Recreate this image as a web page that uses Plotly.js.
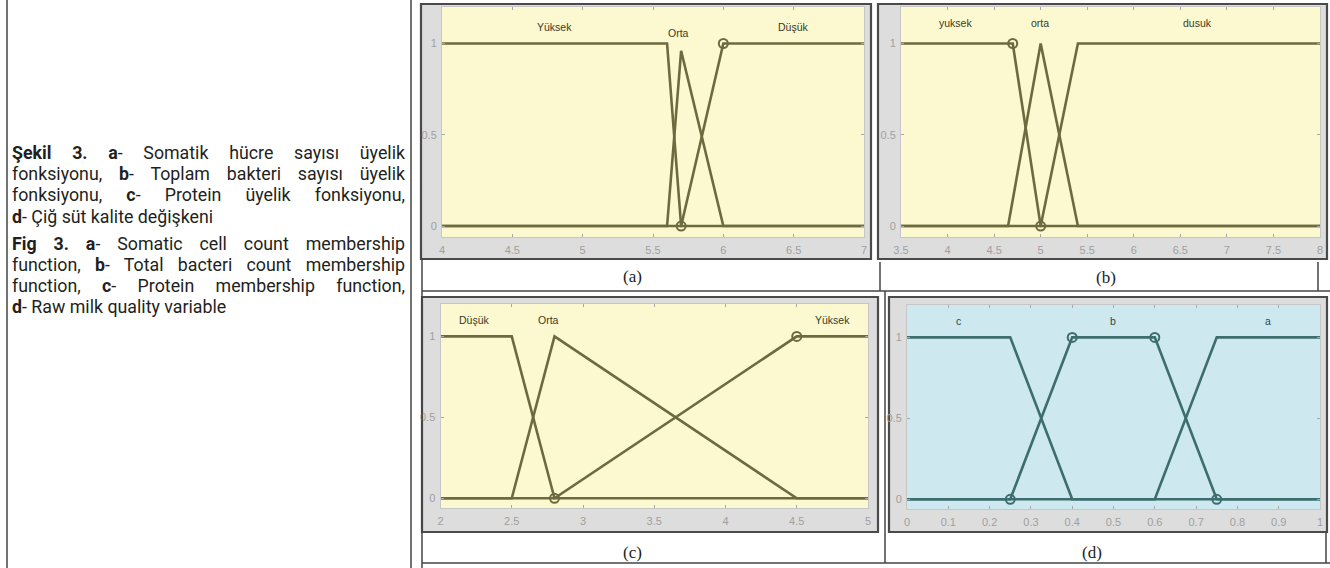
<!DOCTYPE html>
<html>
<head>
<meta charset="utf-8">
<script src="https://cdn.plot.ly/plotly-3.0.1.min.js"></script>
<style>
  body { margin: 0; background: #fff; }
  #wrap { position: relative; width: 1330px; height: 568px; }
  #plot { position: absolute; left: 0; top: 0; width: 1330px; height: 568px; }
  #caption {
    position: absolute; left: 12px; top: 142px; width: 393px;
    font-family: Roboto, 'Open Sans', sans-serif; font-size: 17.8px;
    line-height: 21.2px; color: #231f20;
  }
  #caption .j { text-align: justify; text-align-last: justify; }
  #caption .gap { height: 6px; }
  #caption b { font-weight: 700; }
</style>
</head>
<body>
<div id="wrap">
  <div id="plot"></div>
  <div id="caption">
    <div class="j"><b>Şekil 3. a</b>- Somatik hücre sayısı üyelik</div>
    <div class="j">fonksiyonu, <b>b</b>- Toplam bakteri sayısı üyelik</div>
    <div class="j">fonksiyonu, <b>c</b>- Protein üyelik fonksiyonu,</div>
    <div><b>d</b>- Çiğ süt kalite değişkeni</div>
    <div class="gap"></div>
    <div class="j"><b>Fig 3. a</b>- Somatic cell count membership</div>
    <div class="j">function, <b>b</b>- Total bacteri count membership</div>
    <div class="j">function, <b>c</b>- Protein membership function,</div>
    <div><b>d</b>- Raw milk quality variable</div>
  </div>
</div>
<script>
// (a) somatic cell count
const aTicks = [4, 4.5, 5, 5.5, 6, 6.5, 7];
const aYuksekX = [4, 5.6, 5.7, 7];
const aYuksekY = [1, 1, 0, 0];
const aOrtaX = [4, 5.6, 5.7, 6.0, 7];
const aOrtaY = [0, 0, 0.96, 0, 0];
const aDusukX = [4, 5.7, 6.0, 7];
const aDusukY = [0, 0, 1, 1];
const aMarkX = [5.7, 6.0];
const aMarkY = [0, 1];
const aLabels = ['Yüksek', 'Orta', 'Düşük'];
const aLabelX = [4.8, 5.68, 6.5];
const aLabelY = [1.09, 1.06, 1.09];

// (b) total bacteria count
const bTicks = [3.5, 4, 4.5, 5, 5.5, 6, 6.5, 7, 7.5, 8];
const bYuksekX = [3.5, 4.7, 5.0, 8];
const bYuksekY = [1, 1, 0, 0];
const bOrtaX = [3.5, 4.65, 5.0, 5.4, 8];
const bOrtaY = [0, 0, 1, 0, 0];
const bDusukX = [3.5, 5.0, 5.4, 8];
const bDusukY = [0, 0, 1, 1];
const bMarkX = [4.7, 5.0];
const bMarkY = [1, 0];
const bLabels = ['yuksek', 'orta', 'dusuk'];
const bLabelX = [4.08, 4.99, 6.68];
const bLabelY = [1.11, 1.11, 1.11];

// (c) protein
const cTicks = [2, 2.5, 3, 3.5, 4, 4.5, 5];
const cDusukX = [2, 2.5, 2.8, 5];
const cDusukY = [1, 1, 0, 0];
const cOrtaX = [2, 2.5, 2.8, 4.5, 5];
const cOrtaY = [0, 0, 1, 0, 0];
const cYuksekX = [2, 2.8, 4.5, 5];
const cYuksekY = [0, 0, 1, 1];
const cMarkX = [2.8, 4.5];
const cMarkY = [0, 1];
const cLabels = ['Düşük', 'Orta', 'Yüksek'];
const cLabelX = [2.24, 2.76, 4.75];
const cLabelY = [1.1, 1.1, 1.1];

// (d) raw milk quality
const dTicks = [0, 0.1, 0.2, 0.3, 0.4, 0.5, 0.6, 0.7, 0.8, 0.9, 1];
const dCX = [0, 0.25, 0.4, 1];
const dCY = [1, 1, 0, 0];
const dBX = [0, 0.25, 0.4, 0.6, 0.75, 1];
const dBY = [0, 0, 1, 1, 0, 0];
const dAX = [0, 0.6, 0.75, 1];
const dAY = [0, 0, 1, 1];
const dMarkX = [0.25, 0.4, 0.6, 0.75];
const dMarkY = [0, 1, 1, 0];
const dLabels = ['c', 'b', 'a'];
const dLabelX = [0.124, 0.498, 0.874];
const dLabelY = [1.1, 1.1, 1.1];

const yTicks = [0, 0.5, 1];
const panelLetters = ['(a)', '(b)', '(c)', '(d)'];

const W = 1330, H = 568;
const fx = px => px / W;
const fy = py => 1 - py / H;

const OLIVE = '#6e6a40';
const TEAL = '#3d6d6f';

function mfLine(x, y, color, ax) {
    return {
        x: x, y: y, xaxis: 'x' + ax, yaxis: 'y' + ax,
        mode: 'lines', line: { color: color, width: 2.6 },
        hoverinfo: 'skip', showlegend: false
    };
}

function marks(x, y, color, ax) {
    return {
        x: x, y: y, xaxis: 'x' + ax, yaxis: 'y' + ax,
        mode: 'markers',
        marker: { symbol: 'circle-open', size: 9, color: color, line: { width: 2, color: color } },
        hoverinfo: 'skip', showlegend: false
    };
}

const traces = [
    mfLine(aYuksekX, aYuksekY, OLIVE, ''),
    mfLine(aOrtaX, aOrtaY, OLIVE, ''),
    mfLine(aDusukX, aDusukY, OLIVE, ''),
    marks(aMarkX, aMarkY, OLIVE, ''),
    mfLine(bYuksekX, bYuksekY, OLIVE, '2'),
    mfLine(bOrtaX, bOrtaY, OLIVE, '2'),
    mfLine(bDusukX, bDusukY, OLIVE, '2'),
    marks(bMarkX, bMarkY, OLIVE, '2'),
    mfLine(cDusukX, cDusukY, OLIVE, '3'),
    mfLine(cOrtaX, cOrtaY, OLIVE, '3'),
    mfLine(cYuksekX, cYuksekY, OLIVE, '3'),
    marks(cMarkX, cMarkY, OLIVE, '3'),
    mfLine(dCX, dCY, TEAL, '4'),
    mfLine(dBX, dBY, TEAL, '4'),
    mfLine(dAX, dAY, TEAL, '4'),
    marks(dMarkX, dMarkY, TEAL, '4')
];

const tickFont = { family: 'Liberation Sans, Arial, sans-serif', size: 11, color: '#a0a0a0' };

function xAx(domain, range, ticks, anchor) {
    return {
        domain: domain, range: range, anchor: anchor,
        tickvals: ticks, ticks: 'inside', ticklen: 3, tickcolor: '#a8a8a8',
        showline: true, linecolor: '#c6c6c6', linewidth: 1, mirror: 'ticks',
        showgrid: false, zeroline: false, tickfont: tickFont,
        ticklabelstandoff: 3, fixedrange: true
    };
}

function yAx(domain, anchor) {
    return {
        domain: domain, range: [-0.06, 1.2], anchor: anchor,
        tickvals: yTicks, ticks: 'inside', ticklen: 3, tickcolor: '#a8a8a8',
        showline: true, linecolor: '#c6c6c6', linewidth: 1, mirror: 'ticks',
        showgrid: false, zeroline: false, tickfont: tickFont,
        ticklabelstandoff: 2, fixedrange: true
    };
}

// outer grey frames of the four MATLAB windows
function frame(x0, y0, x1, y1) {
    return {
        type: 'rect', xref: 'paper', yref: 'paper', layer: 'below',
        x0: fx(x0), x1: fx(x1), y0: fy(y1), y1: fy(y0),
        fillcolor: '#dddddd', line: { color: '#4a4a4a', width: 2.2 }
    };
}

function plotBg(ax, color) {
    return {
        type: 'rect', xref: 'x' + ax + ' domain', yref: 'y' + ax + ' domain', layer: 'below',
        x0: 0, x1: 1, y0: 0, y1: 1,
        fillcolor: color, line: { width: 0 }
    };
}

function rule(x0, y0, x1, y1) {
    return {
        type: 'line', xref: 'paper', yref: 'paper',
        x0: fx(x0), x1: fx(x1), y0: fy(y0), y1: fy(y1),
        line: { color: '#444444', width: 1.5 }
    };
}

const shapes = [
    frame(421, 4, 871, 259),
    frame(878, 4, 1327, 259),
    frame(422, 297, 878, 532),
    frame(889, 297, 1327, 532),
    plotBg('', '#fcf8cf'),
    plotBg('2', '#fcf8cf'),
    plotBg('3', '#fcf8cf'),
    plotBg('4', '#cde8ee'),
    rule(7, 0, 7, 568),
    rule(411, 0, 411, 568),
    rule(422, 259, 422, 568),
    rule(422, 291, 1330, 291),
    rule(880, 262, 880, 291),
    rule(1318, 262, 1318, 291),
    rule(885, 291, 885, 563),
    rule(1326, 532, 1326, 563),
    rule(422, 563, 1330, 563)
];

const annotations = [];
function mfLabels(labels, xs, ys, ax, color) {
    labels.forEach((t, i) => {
        annotations.push({
            text: t, x: xs[i], y: ys[i], xref: 'x' + ax, yref: 'y' + ax,
            showarrow: false, xanchor: 'center', yanchor: 'middle',
            font: { family: 'Liberation Sans, Arial, sans-serif', size: 10.5, color: color }
        });
    });
}
mfLabels(aLabels, aLabelX, aLabelY, '', '#3b3a28');
mfLabels(bLabels, bLabelX, bLabelY, '2', '#3b3a28');
mfLabels(cLabels, cLabelX, cLabelY, '3', '#3b3a28');
mfLabels(dLabels, dLabelX, dLabelY, '4', '#2c4a4b');

const letterPos = [[632, 276], [1106, 277], [632, 552], [1092, 552]];
panelLetters.forEach((t, i) => {
    annotations.push({
        text: t, x: fx(letterPos[i][0]), y: fy(letterPos[i][1]), xref: 'paper', yref: 'paper',
        showarrow: false, xanchor: 'center', yanchor: 'middle',
        font: { family: 'Liberation Serif, Times New Roman, serif', size: 17, color: '#222222' }
    });
});

const layout = {
    width: W, height: H, autosize: false,
    margin: { l: 0, r: 0, t: 0, b: 0, pad: 0 },
    paper_bgcolor: '#ffffff',
    plot_bgcolor: 'rgba(0,0,0,0)',
    showlegend: false,
    xaxis: xAx([fx(442), fx(864)], [4, 7], aTicks, 'y'),
    yaxis: yAx([fy(237), fy(7)], 'x'),
    xaxis2: xAx([fx(901), fx(1320)], [3.5, 8], bTicks, 'y2'),
    yaxis2: yAx([fy(237), fy(7)], 'x2'),
    xaxis3: xAx([fx(440.5), fx(868)], [2, 5], cTicks, 'y3'),
    yaxis3: yAx([fy(508), fy(304)], 'x3'),
    xaxis4: xAx([fx(907), fx(1320)], [0, 1], dTicks, 'y4'),
    yaxis4: yAx([fy(509), fy(305)], 'x4'),
    shapes: shapes,
    annotations: annotations
};

Plotly.newPlot('plot', traces, layout, { displayModeBar: false, staticPlot: true });
</script>
</body>
</html>
